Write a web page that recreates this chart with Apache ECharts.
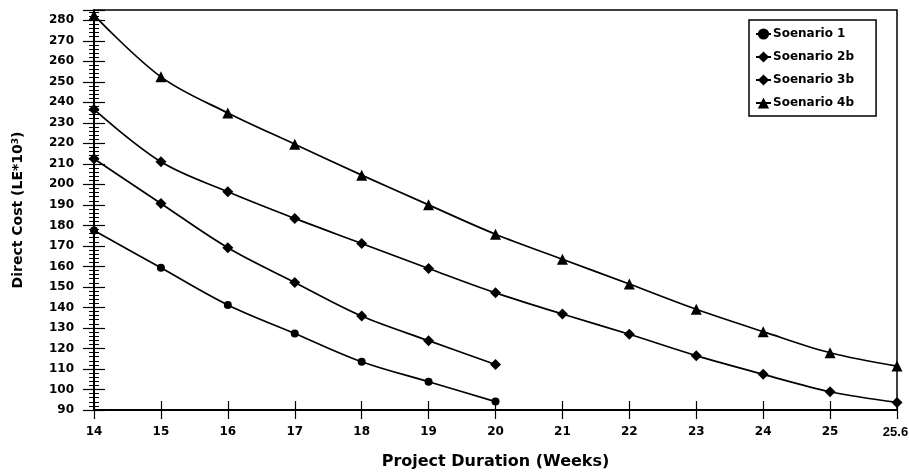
<!DOCTYPE html>
<html><head><meta charset="utf-8">
<script src="https://cdn.jsdelivr.net/npm/echarts@6/dist/echarts.min.js"></script>
<style>html,body{margin:0;padding:0;background:#fff}#c{width:909px;height:472px}</style>
</head><body><div id="c"></div>
<script>
const categories = ['14','15','16','17','18','19','20','21','22','23','24','25','25.6'];
const scenario1  = [177.5, 159.3, 141.2, 127.3, 113.5, 103.8, 94.1];
const scenario2b = [212.5, 190.7, 169.1, 152.2, 135.8, 123.8, 112.2];
const scenario3b = [236.5, 211.0, 196.4, 183.4, 171.2, 159.0, 147.1, 136.8, 126.9, 116.5, 107.4, 98.9, 93.7];
const scenario4b = [282.5, 252.4, 234.8, 219.6, 204.5, 190.0, 175.7, 163.5, 151.4, 139.1, 128.2, 117.9, 111.4];
const yTickMin = 90, yTickMax = 285, yTickStep = 10;

const F = '"DejaVu Sans", Verdana, sans-serif';
const FN = '"Liberation Sans", Arial, sans-serif';
const chart = echarts.init(document.getElementById('c'));
function mk(name, data, symbol, size) {
  return {
    name, type: 'line', data, smooth: 0.35, symbol, symbolSize: size,
    itemStyle: { color: '#000' }, lineStyle: { color: '#000', width: 1.7 },
    xAxisIndex: 0, yAxisIndex: 0, z: 5
  };
}
const baseY = {
  type: 'value', min: yTickMin, max: yTickMax, interval: yTickStep, position: 'left',
  splitLine: { show: false }
};
const baseX = { type: 'category', data: categories, boundaryGap: false, position: 'bottom', splitLine: { show: false } };
const lastCat = categories[categories.length - 1];
chart.setOption({
  animation: false,
  backgroundColor: '#fff',
  grid: { left: 94, right: 12, top: 10, bottom: 62, containLabel: false, outerBoundsMode: 'none',
    show: true, borderColor: '#000', borderWidth: 1.5, backgroundColor: 'transparent' },
  legend: {
    orient: 'vertical', left: 749, top: 20,
    padding: [8, 22, 7, 6], itemGap: 11, itemWidth: 15, itemHeight: 14,
    borderColor: '#000', borderWidth: 1.5, backgroundColor: '#fff',
    textStyle: { fontFamily: F, fontWeight: 'bold', fontSize: 12, color: '#000', padding: [0, 0, 0, -3] },
    data: ['Soenario 1', 'Soenario 2b', 'Soenario 3b', 'Soenario 4b']
  },
  xAxis: [
    Object.assign({}, baseX, {
      name: 'Project Duration (Weeks)', nameLocation: 'middle', nameGap: 44,
      nameTextStyle: { fontFamily: F, fontWeight: 'bold', fontSize: 16, color: '#000' },
      axisLine: { lineStyle: { color: '#000', width: 2 } },
      axisTick: { alignWithLabel: true, interval: 0, length: 9, lineStyle: { color: '#000', width: 1.2 } },
      axisLabel: { interval: 0, hideOverlap: false, margin: 16, fontFamily: F, fontWeight: 'bold', fontSize: 12, color: '#000',
        formatter: v => (v === lastCat ? '{n|' + v + '}' : v),
        rich: { n: { fontFamily: FN, fontWeight: 'bold', fontSize: 13, color: '#000', padding: [0, 3, 0, 0] } } }
    }),
    Object.assign({}, baseX, {
      axisLine: { show: false },
      axisTick: { inside: true, interval: 0, length: 9, lineStyle: { color: '#000', width: 1.2 } },
      axisLabel: { show: false }
    })
  ],
  yAxis: [
    Object.assign({}, baseY, {
      name: '{a|Direct Cost (LE*10}{s|3}{a|)}', nameLocation: 'middle', nameGap: 68, nameRotate: 90,
      nameTextStyle: { rich: {
        a: { fontFamily: F, fontWeight: 'bold', fontSize: 14, color: '#000' },
        s: { fontFamily: F, fontWeight: 'bold', fontSize: 9, color: '#000', verticalAlign: 'top', padding: [0, 0, 6, 0] }
      } },
      axisLine: { show: true, lineStyle: { color: '#000', width: 2 } },
      axisTick: { show: true, length: 11, lineStyle: { color: '#000', width: 1.2 } },
      minorTick: { show: true, splitNumber: 5, length: 5, lineStyle: { color: '#000', width: 1 } },
      axisLabel: { margin: 20, fontFamily: F, fontWeight: 'bold', fontSize: 12, color: '#000',
        formatter: v => (v % 10 === 0 ? String(v) : '') }
    }),
    Object.assign({}, baseY, {
      axisLine: { show: false },
      axisTick: { show: true, inside: true, length: 11, lineStyle: { color: '#000', width: 1.2 } },
      minorTick: { show: true, splitNumber: 5, length: 5, lineStyle: { color: '#000', width: 1 } },
      axisLabel: { show: false }
    })
  ],
  series: [
    mk('Soenario 1', scenario1, 'circle', 8),
    mk('Soenario 2b', scenario2b, 'diamond', 11),
    mk('Soenario 3b', scenario3b, 'diamond', 11),
    mk('Soenario 4b', scenario4b, 'triangle', 11)
  ]
});
</script></body></html>
